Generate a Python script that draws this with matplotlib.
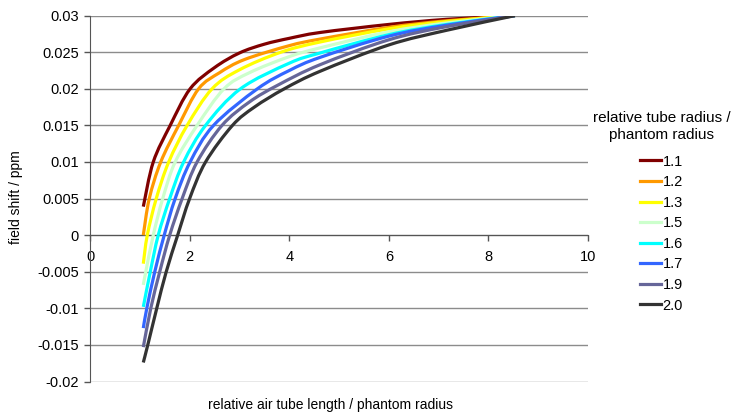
import numpy as np
import matplotlib.pyplot as plt
from matplotlib.path import Path
from matplotlib.patches import PathPatch
from matplotlib.lines import Line2D

plt.rcParams['font.family'] = ['Liberation Sans', 'DejaVu Sans']

# --------------------------------- #
# values

radii = ["1.1", "1.2", "1.3", "1.5", "1.6", "1.7", "1.9", "2.0"]
colors = ["#800000", "#ff9900", "#ffff00", "#ccffcc", "#00ffff", "#3366ff", "#666699", "#333333"]

x_11 = [1.07, 1.27, 1.61, 2.01, 2.5, 3.0, 3.5, 4.0, 4.62, 6.0, 7.16, 8.53]
y_11 = [0.0039, 0.010, 0.015, 0.020, 0.0229, 0.0249, 0.0261, 0.0269, 0.0277, 0.0288, 0.0295, 0.030]

x_12 = [1.07, 1.19, 1.42, 1.78, 2.18, 2.6, 3.1, 4.0, 4.62, 6.0, 7.16, 8.53]
y_12 = [0.0, 0.005, 0.010, 0.015, 0.020, 0.0222, 0.0240, 0.0259, 0.0268, 0.0284, 0.0293, 0.030]

x_13 = [1.07, 1.15, 1.33, 1.58, 1.95, 2.45, 3.0, 3.83, 4.62, 6.0, 7.16, 8.53]
y_13 = [-0.0039, 0.0, 0.005, 0.010, 0.015, 0.020, 0.0226, 0.025, 0.0264, 0.0282, 0.0292, 0.030]

x_15 = [1.07, 1.12, 1.27, 1.46, 1.71, 2.15, 2.69, 3.2, 4.0, 4.62, 6.0, 7.16, 8.53]
y_15 = [-0.0068, -0.005, 0.0, 0.005, 0.010, 0.015, 0.020, 0.0222, 0.0244, 0.0256, 0.0278, 0.0290, 0.030]

x_16 = [1.07, 1.21, 1.37, 1.60, 1.88, 2.32, 3.02, 4.0, 4.62, 6.0, 7.16, 8.53]
y_16 = [-0.0098, -0.005, 0.0, 0.005, 0.010, 0.015, 0.020, 0.0235, 0.0249, 0.0274, 0.0288, 0.030]

x_17 = [1.07, 1.14, 1.30, 1.49, 1.71, 2.01, 2.48, 3.36, 4.0, 4.62, 6.0, 7.16, 8.53]
y_17 = [-0.0127, -0.010, -0.005, 0.0, 0.005, 0.010, 0.015, 0.020, 0.0225, 0.0243, 0.0272, 0.0287, 0.030]

x_19 = [1.07, 1.22, 1.40, 1.60, 1.85, 2.15, 2.65, 3.2, 3.77, 4.62, 6.0, 7.16, 8.53]
y_19 = [-0.0153, -0.010, -0.005, 0.0, 0.005, 0.010, 0.015, 0.0182, 0.0205, 0.0233, 0.0267, 0.0285, 0.030]

x_20 = [1.07, 1.16, 1.34, 1.53, 1.76, 2.0, 2.32, 2.86, 3.3, 3.9, 4.62, 6.0, 7.16, 8.53]
y_20 = [-0.0174, -0.015, -0.010, -0.005, 0.0, 0.005, 0.010, 0.015, 0.0175, 0.020, 0.0224, 0.0260, 0.0280, 0.030]

xs = [x_11, x_12, x_13, x_15, x_16, x_17, x_19, x_20]
ys = [y_11, y_12, y_13, y_15, y_16, y_17, y_19, y_20]

x_ticks = [0, 2, 4, 6, 8, 10]
y_ticks = [-0.02, -0.015, -0.01, -0.005, 0, 0.005, 0.01, 0.015, 0.02, 0.025, 0.03]
y_tick_labels = ["-0.02", "-0.015", "-0.01", "-0.005", "0", "0.005", "0.01", "0.015", "0.02", "0.025", "0.03"]


# --------------------------------- #
# smoothed line like the spreadsheet one: cubic bezier through the points

def smoothPath(x, y):
    p = np.column_stack([x, y])
    verts = [p[0]]
    codes = [Path.MOVETO]
    n = len(p)
    for i in range(n - 1):
        prev = p[i - 1] if i > 0 else p[i]
        nxt = p[i + 2] if i + 2 < n else p[i + 1]
        c1 = p[i] + (p[i + 1] - prev) / 6
        c2 = p[i + 1] - (nxt - p[i]) / 6
        verts += [c1, c2, p[i + 1]]
        codes += [Path.CURVE4] * 3
    return Path(verts, codes)


fig = plt.figure(figsize=(7.39, 4.12), dpi=100)
ax = fig.add_axes([0.1218, 0.074, 0.674, 0.888])

handles = []
for x, y, c, r in zip(xs, ys, colors, radii):
    ax.add_patch(PathPatch(smoothPath(x, y), fill=False, edgecolor=c, lw=2.3, zorder=3))
    handles.append(Line2D([], [], color=c, lw=2.3))

ax.set_xlim(0, 10)
ax.set_ylim(-0.02, 0.03)

# horizontal gridlines only
for yv in y_ticks:
    ax.axhline(yv, color='#8c8c8c', lw=1, zorder=1)

ax.spines['right'].set_visible(False)
ax.spines['top'].set_visible(False)
ax.spines['left'].set_color('#555555')
ax.spines['bottom'].set_position(('data', 0))
ax.spines['bottom'].set_color('#555555')

ax.set_xticks(x_ticks)
ax.set_yticks(y_ticks)
ax.set_yticklabels(y_tick_labels)
ax.tick_params(axis='both', direction='out', length=4, width=1, color='#555555', labelsize=10.5)
ax.tick_params(axis='x', pad=7)
ax.tick_params(axis='y', pad=4)

fig.text(0.021, 0.522, "field shift / ppm", rotation=90, ha='center', va='center', fontsize=10)
fig.text(0.447, 0.017, "relative air tube length / phantom radius", ha='center', va='center', fontsize=10)

leg = fig.legend(handles, radii, title="relative tube radius /\nphantom radius",
                 loc='upper center', bbox_to_anchor=(0.895, 0.763), frameon=False,
                 fontsize=10.5, title_fontsize=11, handlelength=1.45, handletextpad=0.1,
                 labelspacing=0.45)
leg.get_title().set_multialignment('center')
leg.get_title().set_linespacing(1.3)
leg._legend_box.sep = 9  # a bit more room under the title

fig.savefig("out.png", dpi=100)
